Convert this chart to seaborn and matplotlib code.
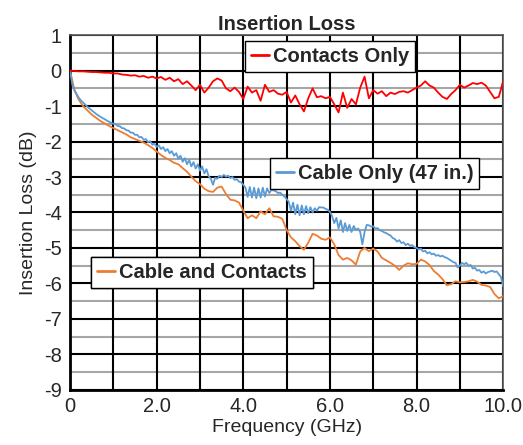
import numpy as np
import pandas as pd
import seaborn as sns
import matplotlib.pyplot as plt
from matplotlib.lines import Line2D

# frequency grids (GHz)
freq_10 = np.round(np.arange(0, 10.001, 0.1), 2)
freq_20 = np.round(np.arange(0, 10.001, 0.05), 2)

# Contacts Only (dB), read at 0.1 GHz steps
contacts_only = [
    0.00, -0.01, -0.02, -0.02, -0.03, -0.04, -0.04, -0.05, -0.06, -0.06,
    -0.08, -0.08, -0.11, -0.12, -0.14, -0.13, -0.17, -0.15, -0.20, -0.17,
    -0.22, -0.18, -0.26, -0.20, -0.30, -0.24, -0.38, -0.30, -0.42, -0.55,
    -0.40, -0.62, -0.48, -0.30, -0.22, -0.28, -0.50, -0.58, -0.48, -0.60,
    -0.80, -0.45, -0.62, -0.55, -0.85, -0.40, -0.60, -0.55, -0.65, -0.68,
    -0.60, -0.90, -0.70, -0.95, -1.15, -0.78, -0.50, -0.75, -0.72, -0.78,
    -0.74, -0.95, -1.18, -0.62, -1.05, -0.80, -0.95, -0.48, -0.17, -0.78,
    -0.55, -0.65, -0.58, -0.72, -0.62, -0.66, -0.60, -0.58, -0.62, -0.55,
    -0.48, -0.42, -0.30, -0.42, -0.48, -0.62, -0.74, -0.80, -0.66, -0.55,
    -0.40, -0.48, -0.42, -0.35, -0.38, -0.34, -0.42, -0.60, -0.78, -0.74,
    -0.30,
]

# Cable and Contacts (dB), read at 0.1 GHz steps
cable_and_contacts = [
    0.00, -0.55, -0.82, -1.00, -1.12, -1.24, -1.33, -1.42, -1.49, -1.56,
    -1.62, -1.68, -1.74, -1.80, -1.88, -1.93, -1.98, -2.03, -2.10, -2.18,
    -2.28, -2.38, -2.46, -2.52, -2.60, -2.64, -2.75, -2.85, -2.99, -3.12,
    -3.20, -3.33, -3.40, -3.42, -3.30, -3.27, -3.48, -3.64, -3.66, -3.72,
    -3.95, -4.16, -4.08, -4.16, -3.97, -4.05, -3.88, -4.11, -4.12, -4.18,
    -4.49, -4.70, -4.81, -4.95, -5.05, -4.85, -4.60, -4.65, -4.74, -4.77,
    -4.70, -4.90, -5.20, -5.33, -5.28, -5.35, -5.47, -5.10, -5.00, -5.09,
    -5.02, -5.10, -5.28, -5.35, -5.42, -5.50, -5.62, -5.50, -5.43, -5.46,
    -5.45, -5.33, -5.38, -5.48, -5.65, -5.75, -5.88, -6.05, -6.02, -5.94,
    -5.97, -5.96, -5.94, -5.90, -5.95, -6.04, -6.06, -6.10, -6.30, -6.42,
    -6.36,
]

# Cable Only (47 in.) (dB), read at 0.05 GHz steps
cable_only = [
    0.00, -0.38, -0.55, -0.66, -0.76, -0.84, -0.90, -0.96, -1.02, -1.07,
    -1.12, -1.17, -1.22, -1.26, -1.30, -1.34, -1.37, -1.41, -1.44, -1.47,
    -1.50, -1.51, -1.56, -1.57, -1.62, -1.63, -1.68, -1.69, -1.75, -1.75,
    -1.81, -1.81, -1.88, -1.87, -1.95, -1.93, -2.02, -1.99, -2.09, -2.06,
    -2.15, -2.11, -2.21, -2.16, -2.27, -2.21, -2.33, -2.27, -2.40, -2.33,
    -2.48, -2.40, -2.57, -2.47, -2.64, -2.52, -2.70, -2.58, -2.76, -2.64,
    -2.82, -2.70, -2.90, -2.78, -2.98, -3.05, -3.22, -3.02, -3.05, -2.96,
    -3.00, -2.94, -2.99, -2.96, -3.03, -3.00, -3.08, -3.06, -3.13, -3.15,
    -3.22, -3.30, -3.56, -3.28, -3.58, -3.30, -3.60, -3.32, -3.58, -3.30,
    -3.55, -3.32, -3.45, -3.36, -3.38, -3.40, -3.45, -3.44, -3.50, -3.55,
    -3.62, -3.70, -3.95, -3.72, -4.05, -3.78, -4.08, -3.80, -4.05, -3.82,
    -4.02, -3.85, -4.00, -3.88, -3.95, -3.85, -3.86, -3.86, -3.90, -3.92,
    -3.98, -4.10, -4.30, -4.15, -4.45, -4.22, -4.55, -4.30, -4.52, -4.35,
    -4.55, -4.38, -4.50, -4.45, -4.55, -4.90, -4.55, -4.35, -4.36, -4.40,
    -4.39, -4.45, -4.44, -4.50, -4.52, -4.56, -4.58, -4.62, -4.65, -4.72,
    -4.75, -4.82, -4.78, -4.86, -4.84, -4.92, -4.88, -4.94, -4.92, -4.98,
    -5.00, -5.04, -5.02, -5.10, -5.08, -5.15, -5.12, -5.18, -5.16, -5.22,
    -5.20, -5.24, -5.22, -5.26, -5.28, -5.32, -5.36, -5.40, -5.42, -5.55,
    -5.50, -5.42, -5.46, -5.42, -5.50, -5.48, -5.58, -5.56, -5.64, -5.62,
    -5.70, -5.66, -5.72, -5.68, -5.66, -5.64, -5.68, -5.66, -5.74, -5.82,
    -6.08,
]

x_tick_vals = [0, 2, 4, 6, 8, 10]
x_tick_labels = ['0', '2.0', '4.0', '6.0', '8.0', '10.0']
y_tick_vals = list(range(1, -10, -1))

labels = ['Contacts Only', 'Cable Only (47 in.)', 'Cable and Contacts']
colors = {'Contacts Only': '#ff0000',
          'Cable Only (47 in.)': '#5b9bd5',
          'Cable and Contacts': '#ed7d31'}

df_red = pd.DataFrame({'freq': freq_10, 'il': contacts_only})
df_org = pd.DataFrame({'freq': freq_10, 'il': cable_and_contacts})
df_blu = pd.DataFrame({'freq': freq_20, 'il': cable_only})

sns.set_style('white')
plt.rcParams['font.family'] = ['Liberation Sans', 'DejaVu Sans']

fig = plt.figure(figsize=(5.23, 4.45), dpi=100)
ax = fig.add_axes([0.134, 0.124, 0.828, 0.797])

# grid: black every 1, gray at the half steps
for yv in np.arange(-8.5, 1, 1.0):
    ax.axhline(yv, color='#a6a6a6', lw=1.5, zorder=1)
for yv in y_tick_vals:
    ax.axhline(yv, color='black', lw=1.5, zorder=1)
for xv in range(0, 11):
    ax.axvline(xv, color='black', lw=1.5, zorder=1)

sns.lineplot(data=df_org, x='freq', y='il', color=colors['Cable and Contacts'],
             lw=1.3, ax=ax, zorder=3)
sns.lineplot(data=df_blu, x='freq', y='il', color=colors['Cable Only (47 in.)'],
             lw=1.3, ax=ax, zorder=4)
sns.lineplot(data=df_red, x='freq', y='il', color=colors['Contacts Only'],
             lw=1.3, ax=ax, zorder=5)

ax.set_xlim(0, 10)
ax.set_ylim(-9, 1)
ax.set_xticks(x_tick_vals)
ax.set_xticklabels(x_tick_labels, fontsize=14.5)
ax.set_yticks(y_tick_vals)
ax.set_yticklabels([str(v) for v in y_tick_vals], fontsize=14.5)
ax.tick_params(axis='y', direction='out', length=5, width=1.5, pad=1)
ax.tick_params(axis='x', length=0, pad=5)
for s in ['left', 'bottom']:
    ax.spines[s].set_linewidth(2)
    ax.spines[s].set_color('black')
for s in ['top', 'right']:
    ax.spines[s].set_linewidth(1.2)
    ax.spines[s].set_color('#555555')

ax.set_xlabel('Frequency (GHz)', fontsize=14, labelpad=2)
ax.set_ylabel('Insertion Loss (dB)', fontsize=14, labelpad=5)
ax.set_title('Insertion Loss', fontsize=14.5, fontweight='bold', pad=4)

# three separate legend boxes
anchors = {'Contacts Only': (0.6, 0.941),
           'Cable Only (47 in.)': (0.703, 0.611),
           'Cable and Contacts': (0.305, 0.330)}
for name in labels:
    h = Line2D([0], [0], color=colors[name], lw=2)
    leg = ax.legend([h], [name], loc='center', bbox_to_anchor=anchors[name],
                    prop={'weight': 'bold', 'size': 14.5}, frameon=True,
                    fancybox=False, framealpha=1, edgecolor='black',
                    handlelength=0.9, handletextpad=0.2, borderpad=0.3,
                    borderaxespad=0)
    leg.get_frame().set_linewidth(1.0)
    leg.set_zorder(10)
    ax.add_artist(leg)

fig.savefig('out.png', dpi=100)
